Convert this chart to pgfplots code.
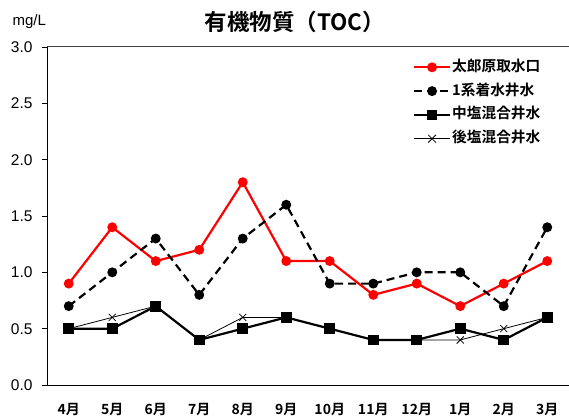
\documentclass[border=0pt]{standalone}
\usepackage{pgfplots}
\pgfplotsset{compat=1.18}
\usepackage{fontspec}
\setmainfont{Liberation Sans}
\newfontfamily\jp{Noto Sans CJK JP}[BoldFont={Noto Sans CJK JP Bold}]
\begin{document}
\begin{tikzpicture}
\begin{axis}[
  scale only axis,
  width=522bp, height=338bp,
  xmin=-0.5, xmax=11.5, ymin=0, ymax=3,
  axis x line*=bottom, axis y line*=left,
  axis line style={line width=1pt, -},
  xtick={0,...,11},
  xticklabels={4月,5月,6月,7月,8月,9月,10月,11月,12月,1月,2月,3月},
  x tick label style={font=\jp\bfseries\fontsize{14bp}{16bp}\selectfont, yshift=-10bp},
  major x tick style={draw=none},
  extra x ticks={0.5,1.5,...,10.5},
  extra x tick labels={},
  extra x tick style={tick style={draw=black, line width=0.8pt}, major tick length=5bp, tick align=inside},
  ytick={0,0.5,...,3},
  y tick label style={font=\fontsize{15.5bp}{17bp}\selectfont, xshift=-6bp},
  yticklabel style={/pgf/number format/.cd, fixed, fixed zerofill, precision=1},
  /pgf/number format/assume math mode=true,
  y tick style={line width=0.8pt, black},
  major tick length=5bp,
  tick align=outside,
  clip=false,
  legend style={draw=none, fill=none, at={(0.695,0.97)}, anchor=north west,
    font=\jp\bfseries\fontsize{14.7bp}{16bp}\selectfont,
    nodes={inner sep=1bp, text height=11bp, text depth=3bp},
    row sep=7.8bp},
  legend cell align=left,
  legend image code/.code={\draw[mark repeat=2,mark phase=2,#1] plot coordinates {(0bp,0bp) (18bp,0bp) (36bp,0bp)};},
]
\addplot[red, line width=2.2pt, mark=*, mark size=3.8bp, mark options={solid}] coordinates {
(0,0.9)(1,1.4)(2,1.1)(3,1.2)(4,1.8)(5,1.1)(6,1.1)(7,0.8)(8,0.9)(9,0.7)(10,0.9)(11,1.1)};
\addlegendentry{太郎原取水口}
\addplot[black, line width=2.2pt, dash pattern=on 8bp off 5bp, mark=*, mark size=3.8bp, mark options={solid}] coordinates {
(0,0.7)(1,1.0)(2,1.3)(3,0.8)(4,1.3)(5,1.6)(6,0.9)(7,0.9)(8,1.0)(9,1.0)(10,0.7)(11,1.4)};
\addlegendentry{1系着水井水}
\addplot[black, line width=0.8pt, mark=x, mark size=5bp, forget plot] coordinates {
(0,0.5)(1,0.6)(2,0.7)(3,0.4)(4,0.6)(5,0.6)(6,0.5)(7,0.4)(8,0.4)(9,0.4)(10,0.5)(11,0.6)};
\addplot[black, line width=2.2pt, mark=square*, mark size=4.3bp] coordinates {
(0,0.5)(1,0.5)(2,0.7)(3,0.4)(4,0.5)(5,0.6)(6,0.5)(7,0.4)(8,0.4)(9,0.5)(10,0.4)(11,0.6)};
\addlegendentry{中塩混合井水}
\addlegendimage{black, line width=0.8pt, mark=x, mark size=5.5bp}
\addlegendentry{後塩混合井水}
\coordinate (sw) at (rel axis cs:0,0);
\coordinate (ne) at (rel axis cs:1,1);
\draw[line width=1pt, black!75] (rel axis cs:0,1) -- (rel axis cs:1,1);
\node[font=\jp\bfseries\fontsize{22.5bp}{24bp}\selectfont] at ([yshift=25bp]rel axis cs:0.475,1) {有機物質（TOC）};
\node[font=\fontsize{15bp}{16bp}\selectfont, anchor=west] at ([xshift=-38bp,yshift=25bp]rel axis cs:0,1) {mg/L};
\end{axis}
\pgfresetboundingbox
\path[use as bounding box] ([shift={(-47bp,-33bp)}]sw) rectangle ([shift={(0bp,47bp)}]ne);
\end{tikzpicture}
\end{document}
